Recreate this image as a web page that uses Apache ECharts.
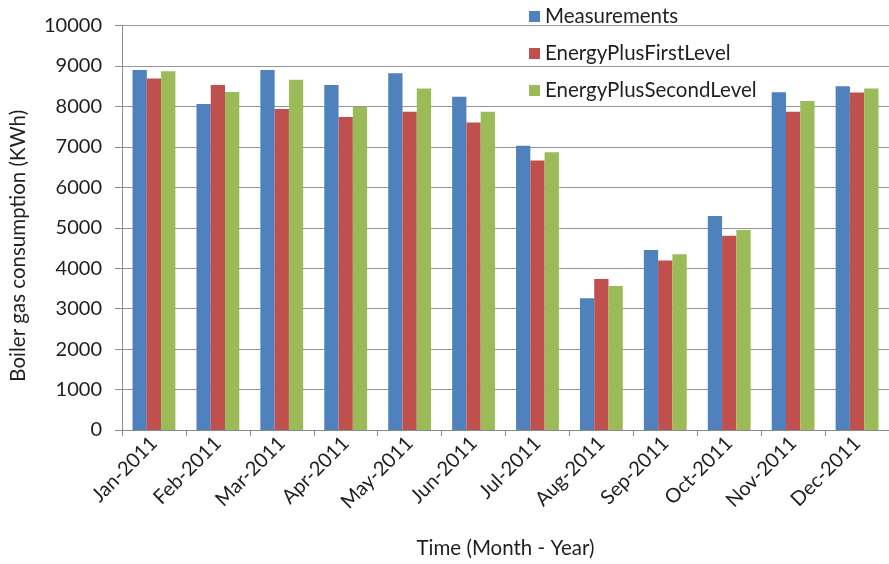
<!DOCTYPE html>
<html>
<head>
<meta charset="utf-8">
<script src="https://cdn.jsdelivr.net/npm/echarts@6/dist/echarts.min.js"></script>
<style>
  html, body { margin: 0; padding: 0; background: #fff; }
  #chart { width: 889px; height: 564px; }
</style>
</head>
<body>
<div id="chart"></div>
<script>
// Monthly boiler gas consumption, 2011 (kWh)
const months = ['Jan-2011', 'Feb-2011', 'Mar-2011', 'Apr-2011', 'May-2011', 'Jun-2011',
                'Jul-2011', 'Aug-2011', 'Sep-2011', 'Oct-2011', 'Nov-2011', 'Dec-2011'];
const measurements = [8900, 8060, 8900, 8530, 8820, 8240, 7030, 3260, 4450, 5290, 8350, 8500];
const firstLevel   = [8690, 8530, 7935, 7740, 7870, 7605, 6665, 3730, 4190, 4800, 7870, 8345];
const secondLevel  = [8870, 8355, 8660, 7985, 8445, 7870, 6865, 3560, 4345, 4945, 8135, 8445];
const yTicks = { min: 0, max: 10000, step: 1000 };

const FONT = 'Lato';
const TEXT = '#1f1f1f';

const chart = echarts.init(document.getElementById('chart'), null, { renderer: 'canvas' });

function bar(name, data, color) {
  return {
    name: name,
    type: 'bar',
    data: data,
    barGap: '0%',
    barCategoryGap: '33%',
    itemStyle: { color: color },
    animation: false
  };
}

chart.setOption({
  backgroundColor: '#ffffff',
  animation: false,
  textStyle: { fontFamily: FONT, color: TEXT },
  grid: { left: 121, top: 25.5, right: 0, bottom: 132.5, containLabel: false },
  legend: {
    orient: 'vertical',
    left: 524,
    top: 1,
    itemWidth: 11,
    itemHeight: 11,
    itemGap: 16,
    icon: 'rect',
    textStyle: { fontFamily: FONT, fontSize: 20.5, color: TEXT, lineHeight: 18, padding: [0, 0, 0, 0] },
    data: ['Measurements', 'EnergyPlusFirstLevel', 'EnergyPlusSecondLevel']
  },
  xAxis: {
    type: 'category',
    data: months,
    name: 'Time (Month - Year)',
    nameLocation: 'middle',
    nameGap: 108,
    nameTextStyle: { fontFamily: FONT, fontSize: 20.5, color: TEXT },
    axisLine: { lineStyle: { color: '#8a8a8a', width: 1 } },
    axisTick: { show: true, length: 6, lineStyle: { color: '#8a8a8a' } },
    axisLabel: { rotate: 45, fontFamily: FONT, fontSize: 20, color: TEXT, margin: 10, interval: 0 }
  },
  yAxis: {
    type: 'value',
    min: yTicks.min,
    max: yTicks.max,
    interval: yTicks.step,
    name: 'Boiler gas consumption (KWh)',
    nameLocation: 'middle',
    nameGap: 93,
    nameRotate: 90,
    nameTextStyle: { fontFamily: FONT, fontSize: 20.5, color: TEXT, padding: [0, 36, 0, 0] },
    axisLine: { show: true, lineStyle: { color: '#8a8a8a', width: 1 } },
    axisTick: { show: true, inside: false, length: 7, lineStyle: { color: '#8a8a8a' } },
    axisLabel: { fontFamily: FONT, fontSize: 20, color: TEXT, margin: 20, formatter: v => String(v) },
    splitLine: { show: true, lineStyle: { color: '#959595', width: 1 } }
  },
  series: [
    bar('Measurements', measurements, '#4F81BD'),
    bar('EnergyPlusFirstLevel', firstLevel, '#C0504D'),
    bar('EnergyPlusSecondLevel', secondLevel, '#9BBB59')
  ]
});
</script>
</body>
</html>
